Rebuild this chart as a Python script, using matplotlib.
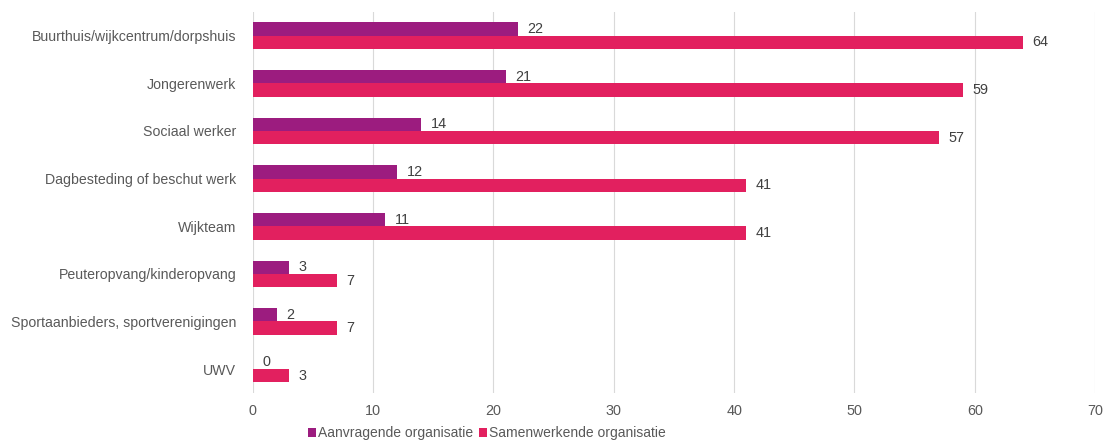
import numpy as np
import matplotlib.pyplot as plt

plt.rcParams['font.family'] = ['Liberation Sans', 'DejaVu Sans']

categorieen = ["Buurthuis/wijkcentrum/dorpshuis", "Jongerenwerk", "Sociaal werker",
               "Dagbesteding of beschut werk", "Wijkteam", "Peuteropvang/kinderopvang",
               "Sportaanbieders, sportverenigingen", "UWV"]
aanvragend = [22, 21, 14, 12, 11, 3, 2, 0]
samenwerkend = [64, 59, 57, 41, 41, 7, 7, 3]

paars = "#9c1c7f"
roze = "#e2205f"
tekst = "#595959"

fig = plt.figure(figsize=(11.04, 4.41), dpi=100)
ax = fig.add_axes([0.229, 0.109, 0.763, 0.864])

y = np.arange(len(categorieen))
h = 0.28
b1 = ax.barh(y - h / 2, aanvragend, height=h, color=paars, label="Aanvragende organisatie")
b2 = ax.barh(y + h / 2, samenwerkend, height=h, color=roze, label="Samenwerkende organisatie")

for bars, vals in ((b1, aanvragend), (b2, samenwerkend)):
    for bar, v in zip(bars, vals):
        ax.text(bar.get_width() + 0.8, bar.get_y() + bar.get_height() / 2, str(v),
                va="center", ha="left", fontsize=10.4, color="#404040")

ax.set_yticks(y)
ax.set_yticklabels(categorieen, fontsize=10.2, color=tekst)
ax.set_ylim(len(categorieen) - 0.5, -0.5)
ax.set_xlim(0, 70)
ax.set_xticks(range(0, 71, 10))
ax.tick_params(axis="x", colors=tekst, labelsize=10.4, length=0, pad=8)
ax.tick_params(axis="y", length=0, pad=12)
ax.grid(axis="x", color="#d9d9d9", linewidth=0.8)
ax.set_axisbelow(True)
for s in ax.spines.values():
    s.set_visible(False)

leg = fig.legend(handles=[b1, b2], loc="center", bbox_to_anchor=(0.441, 0.018), ncol=2,
                 frameon=False, fontsize=10, handlelength=0.6, handleheight=0.6,
                 handletextpad=0.15, columnspacing=0.4)
for t in leg.get_texts():
    t.set_color(tekst)

fig.savefig("out.png", dpi=100)
